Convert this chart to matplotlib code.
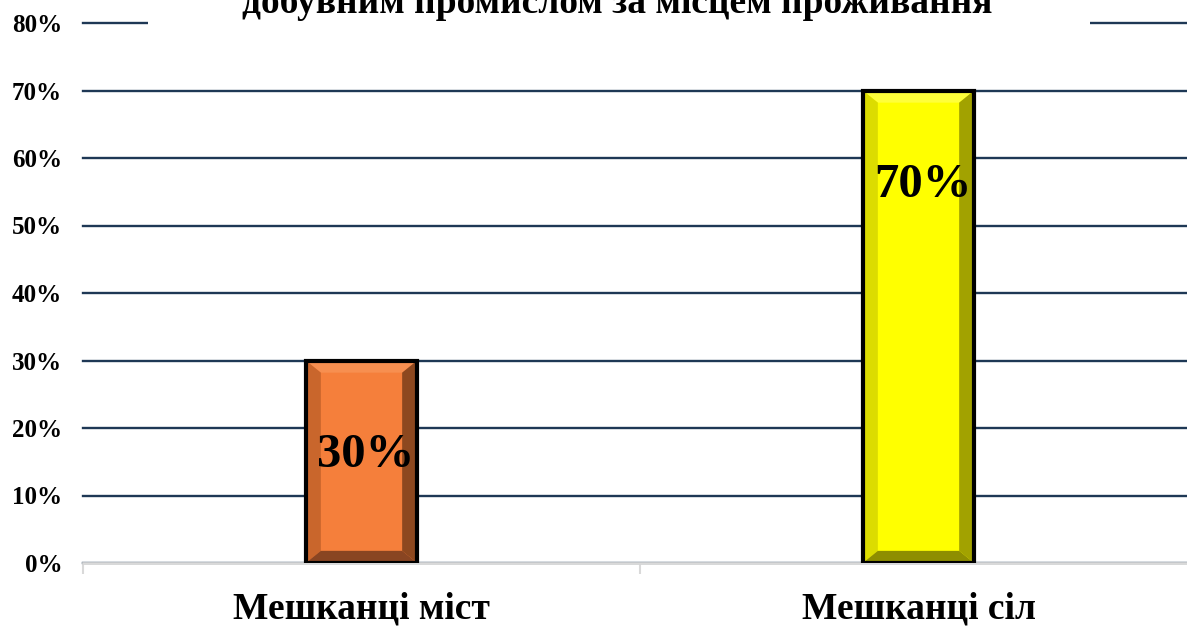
import matplotlib.pyplot as plt
from matplotlib.patches import Polygon, Rectangle

# -------------------------------
# Data
# -------------------------------
categories = ["Мешканці міст", "Мешканці сіл"]
values = [30, 70]
yticks = [0, 10, 20, 30, 40, 50, 60, 70, 80]
title_line = "добувним промислом за місцем проживання"

# colours: front, top, left, right, bottom
shades = [
    ["#F57F3B", "#F78F50", "#C9662C", "#8D481F", "#894522"],
    ["#FFFF00", "#FFFF3A", "#DCDC00", "#A2A200", "#8E8E00"],
]

plt.rcParams['font.family'] = ['Liberation Serif', 'DejaVu Serif']
plt.rcParams['font.weight'] = 'bold'

W, H = 1187, 626
fig = plt.figure(figsize=(W / 100, H / 100), dpi=100)
ax = fig.add_axes([83 / W, 63 / H, 1114 / W, 540 / H])

# -------------------------------
# Bars with bevel
# -------------------------------
bar_w = 0.2
bx = 0.027   # bevel width (x, data units)
by = 1.8     # bevel height (y, data units)
xs = list(range(len(categories)))

ax.bar(xs, values, width=bar_w, color=[s[0] for s in shades], zorder=3)

for x, v, s in zip(xs, values, shades):
    x0, x1 = x - bar_w / 2, x + bar_w / 2
    polys = [
        ([(x0, v), (x1, v), (x1 - bx, v - by), (x0 + bx, v - by)], s[1]),
        ([(x0, 0), (x0, v), (x0 + bx, v - by), (x0 + bx, by)], s[2]),
        ([(x1, 0), (x1, v), (x1 - bx, v - by), (x1 - bx, by)], s[3]),
        ([(x0, 0), (x1, 0), (x1 - bx, by), (x0 + bx, by)], s[4]),
    ]
    for pts, c in polys:
        ax.add_patch(Polygon(pts, closed=True, facecolor=c, edgecolor='none', zorder=4))

ax.bar(xs, values, width=bar_w, fill=False, edgecolor='black', linewidth=3, zorder=5)

for x, v in zip(xs, values):
    ax.annotate(f"{v}%", xy=(x, v), xytext=(3, -68), textcoords='offset points',
                ha='center', va='center', fontsize=35, fontweight='bold', zorder=6)

# -------------------------------
# Axes styling
# -------------------------------
ax.set_xlim(-0.5, len(categories) - 0.5)
ax.set_ylim(0, 80)
ax.set_yticks(yticks)
ax.set_yticklabels([f"{t}%" for t in yticks], fontsize=18, fontweight='bold')
ax.tick_params(axis='y', length=0, pad=15)
ax.yaxis.grid(True, color='#1E3855', linewidth=1.7)
ax.set_axisbelow(True)
for gl in ax.yaxis.get_gridlines():
    gl.set_clip_on(False)

ax.set_xticks([i - 0.5 for i in range(len(categories) + 1)])
ax.set_xticklabels([])
ax.set_xticks(xs, minor=True)
ax.set_xticklabels(categories, minor=True, fontsize=27, fontweight='bold')
ax.tick_params(axis='x', which='major', length=8, width=1.5, color='#D9D9D9')
ax.tick_params(axis='x', which='minor', length=0, pad=20.5)

for side in ['top', 'right', 'left']:
    ax.spines[side].set_visible(False)
ax.spines['bottom'].set_color('#D9D9D9')
ax.spines['bottom'].set_linewidth(2)

# -------------------------------
# Title (cut at top of picture)
# -------------------------------
fig.add_artist(Rectangle((148 / W, 1 - 40 / H), (1090 - 148) / W, 40 / H,
                         transform=fig.transFigure, facecolor='white',
                         edgecolor='none', zorder=10))
fig.text(617 / W, 1 - 13 / H, title_line, ha='center', va='baseline',
         fontsize=27, fontweight='bold', zorder=11)

fig.savefig("out.png", dpi=100)
